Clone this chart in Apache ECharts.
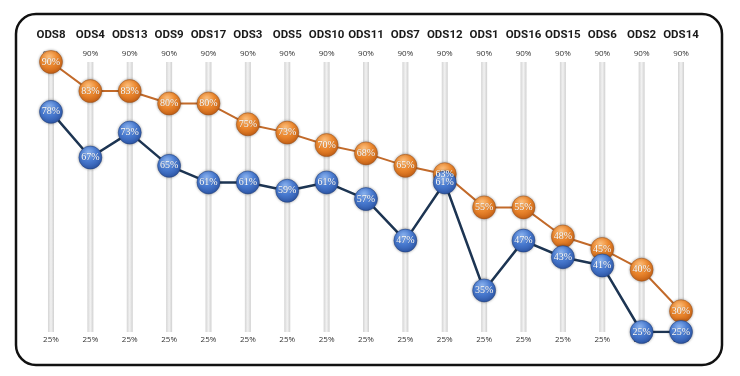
<!DOCTYPE html>
<html><head><meta charset="utf-8">
<script src="https://cdn.jsdelivr.net/npm/echarts@6/dist/echarts.min.js"></script>
<style>html,body{margin:0;padding:0;background:#fff}#c{width:740px;height:376px}</style>
</head><body><div id="c"></div>
<script>
const categories = ['ODS8','ODS4','ODS13','ODS9','ODS17','ODS3','ODS5','ODS10','ODS11','ODS7','ODS12','ODS1','ODS16','ODS15','ODS6','ODS2','ODS14'];
const orangeValues = [90,83,83,80,80,75,73,70,68,65,63,55,55,48,45,40,30];
const blueValues = [78,67,73,65,61,61,59,61,57,47,61,35,47,43,41,25,25];
const axisMin = 25;
const axisMax = 90;

const chart = echarts.init(document.getElementById('c'));
const orangeGrad = {type:'radial',x:0.42,y:0.3,r:0.75,colorStops:[{offset:0,color:'#FBC080'},{offset:0.45,color:'#EE8A30'},{offset:1,color:'#C25C12'}]};
const blueGrad = {type:'radial',x:0.42,y:0.3,r:0.75,colorStops:[{offset:0,color:'#8DB4EE'},{offset:0.45,color:'#4A7CD2'},{offset:1,color:'#2A52A2'}]};
const ptLabel = {show:true,position:'inside',color:'#fff',fontFamily:'Liberation Serif',fontSize:10,
  formatter:p=>p.value+'%',textShadowColor:'rgba(0,0,0,0.35)',textShadowBlur:1};
chart.setOption({
  animation:false,
  graphic:[{type:'rect',shape:{x:16,y:14,width:706,height:351,r:20},style:{fill:'none',stroke:'#111',lineWidth:2.5},z:100}],
  grid:{left:31.3,right:39.3,top:62,bottom:44},
  xAxis:[
    {type:'category',position:'top',data:categories,axisLine:{show:false},axisTick:{show:false},
     axisLabel:{interval:0,margin:21,fontFamily:'Roboto',fontWeight:'bold',fontSize:11.5,color:'#1a1a1a'}},
    {type:'category',position:'bottom',data:categories,axisLine:{show:false},axisTick:{show:false},
     axisLabel:{interval:0,margin:4,fontFamily:'Open Sans',fontSize:8,color:'#333',formatter:()=>axisMin+'%'}}
  ],
  yAxis:{type:'value',min:axisMin,max:axisMax,show:false,splitLine:{show:false}},
  series:[
    {type:'bar',data:categories.map(()=>axisMax),barWidth:6,silent:true,
     itemStyle:{color:{type:'linear',x:0,y:0,x2:1,y2:0,colorStops:[{offset:0,color:'#d4d4d4'},{offset:0.5,color:'#f2f2f2'},{offset:1,color:'#d0d0d0'}]}},
     label:{show:true,position:'top',distance:4,fontFamily:'Open Sans',fontSize:8,color:'#333',formatter:()=>axisMax+'%'}},
    {type:'line',data:orangeValues,symbol:'circle',symbolSize:23,
     lineStyle:{color:'#C26A2A',width:2},
     itemStyle:{color:orangeGrad,borderColor:'rgba(150,80,30,0.5)',borderWidth:1,shadowBlur:3,shadowColor:'rgba(0,0,0,0.35)'},
     label:ptLabel},
    {type:'line',data:blueValues,symbol:'circle',symbolSize:23,
     lineStyle:{color:'#1D3553',width:2.5},
     itemStyle:{color:blueGrad,borderColor:'rgba(30,60,120,0.5)',borderWidth:1,shadowBlur:3,shadowColor:'rgba(0,0,0,0.35)'},
     label:ptLabel}
  ]
});
</script></body></html>
